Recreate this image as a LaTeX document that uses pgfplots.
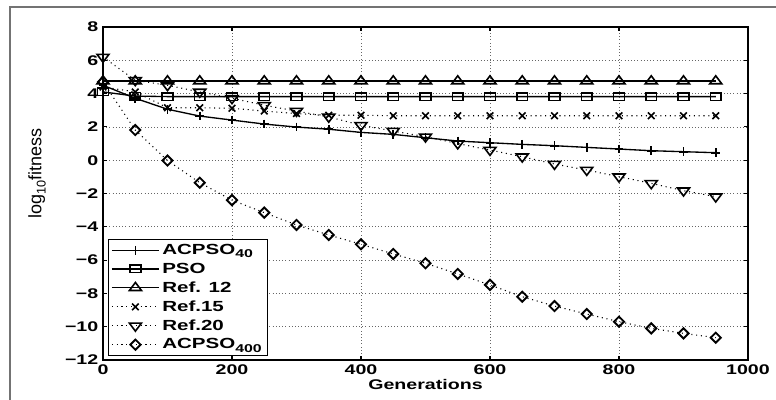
\documentclass[border=0pt]{standalone}
\usepackage{fontspec}
\setmainfont{Liberation Sans}[FakeStretch=1.4]
\newfontfamily\ylabfont{Liberation Sans}
\usepackage{pgfplots}
\pgfplotsset{compat=1.18}
\newcommand{\lf}{\bfseries\fontsize{10.5}{12.5}\selectfont}
\newcommand{\legf}{\bfseries\fontsize{11}{13}\selectfont}
\newcommand{\sub}[1]{\raisebox{-0.45ex}{\bfseries\fontsize{8.5}{8.5}\selectfont #1}}
\begin{document}
\begin{tikzpicture}
\useasboundingbox (-77.25pt,-30pt) rectangle (504.75pt,270pt);
\draw[black!55, line width=0.8pt] (-69.75pt,-31pt) -- (-69.75pt,264.75pt) -- (506pt,264.75pt);
\begin{axis}[
  scale only axis, width=483.75pt, height=249.75pt,
  xmin=0, xmax=1000, ymin=-12, ymax=8,
  xtick={0,200,400,600,800,1000},
  xticklabels={0,200,400,600,800,1000},
  ytick={-12,-10,-8,-6,-4,-2,0,2,4,6,8},
  yticklabels={−12,−10,−8,−6,−4,−2,0,2,4,6,8},
  xtick pos=both, ytick pos=both,
  tick align=inside, major tick length=3pt,
  tick style={black, line width=0.8pt},
  grid=major, grid style={black!60, dotted, line width=0.5pt},
  axis line style={line width=1.5pt},
  font=\lf,
  clip=false,
  xlabel={Generations},
  xlabel style={at={(axis description cs:0.5,-0.075)}, anchor=center},
  ylabel={\ylabfont\mdseries\fontsize{13.5}{15}\selectfont log\raisebox{-0.45ex}{\fontsize{9.5}{9.5}\selectfont 10}fitness},
  ylabel style={at={(axis description cs:-0.1023,0.56)}, anchor=center},
  legend cell align=left,
  legend style={at={(axis description cs:0.0078,0.012)}, anchor=south west,
    draw=black, line width=0.8pt, fill=white, inner xsep=2pt, inner ysep=1.5pt, row sep=0.8pt,
    font=\legf, nodes={font=\legf}},
  legend image code/.code={\draw[mark repeat=2,mark phase=2,#1] plot coordinates {(0cm,0cm)(0.62cm,0cm)(1.24cm,0cm)};},
]
\addplot[black, line width=1pt, mark=+, mark size=3.3pt, mark options={solid, line width=1.2pt}] coordinates {
(0,4.5)(50,3.72)(100,3.06)(150,2.65)(200,2.41)(250,2.17)(300,1.99)(350,1.86)(400,1.67)(450,1.55)
(500,1.35)(550,1.15)(600,1.05)(650,0.95)(700,0.87)(750,0.77)(800,0.67)(850,0.57)(900,0.51)(950,0.45)};
\addlegendentry{ACPSO\sub{40}}
\addplot[black, line width=1pt, mark=square, mark size=2.8pt, mark options={solid, line width=1.2pt, xscale=1.45}] coordinates {
(0,4.1)(50,3.85)(100,3.82)(150,3.82)(200,3.82)(250,3.82)(300,3.82)(350,3.82)(400,3.82)(450,3.82)
(500,3.82)(550,3.82)(600,3.82)(650,3.82)(700,3.82)(750,3.82)(800,3.82)(850,3.82)(900,3.82)(950,3.82)};
\addlegendentry{PSO}
\addplot[black, line width=1pt, mark=triangle, mark size=4pt, mark options={solid, line width=1.2pt, xscale=1.3}] coordinates {
(0,4.75)(50,4.75)(100,4.75)(150,4.75)(200,4.75)(250,4.75)(300,4.75)(350,4.75)(400,4.75)(450,4.75)
(500,4.75)(550,4.75)(600,4.75)(650,4.75)(700,4.75)(750,4.75)(800,4.75)(850,4.75)(900,4.75)(950,4.75)};
\addlegendentry{Ref. 12}
\addplot[black, line width=0.8pt, dash pattern=on 0.8pt off 2.8pt, mark=x, mark size=3.5pt, mark options={solid, line width=1.2pt}] coordinates {
(0,4.4)(50,4.1)(100,3.15)(150,3.15)(200,3.12)(250,2.95)(300,2.8)(350,2.7)(400,2.7)(450,2.67)
(500,2.67)(550,2.67)(600,2.67)(650,2.67)(700,2.67)(750,2.67)(800,2.67)(850,2.67)(900,2.67)(950,2.67)};
\addlegendentry{Ref.15}
\addplot[black, line width=0.8pt, dash pattern=on 0.8pt off 2.8pt, mark=triangle, mark size=4pt, mark options={solid, line width=1.2pt, xscale=1.3, rotate=180}] coordinates {
(0,6.2)(50,4.8)(100,4.5)(150,4.1)(200,3.72)(250,3.3)(300,2.95)(350,2.6)(400,2.1)(450,1.75)
(500,1.41)(550,1.0)(600,0.61)(650,0.21)(700,-0.23)(750,-0.59)(800,-0.99)(850,-1.39)(900,-1.83)(950,-2.19)};
\addlegendentry{Ref.20}
\addplot[black, line width=0.8pt, dash pattern=on 0.8pt off 2.8pt, mark=square, mark size=2.7pt, mark options={solid, line width=1.4pt, rotate=45}] coordinates {
(0,4.7)(50,1.81)(100,-0.02)(150,-1.35)(200,-2.4)(250,-3.15)(300,-3.89)(350,-4.49)(400,-5.05)(450,-5.63)
(500,-6.19)(550,-6.83)(600,-7.49)(650,-8.2)(700,-8.76)(750,-9.24)(800,-9.7)(850,-10.1)(900,-10.4)(950,-10.66)};
\addlegendentry{ACPSO\sub{400}}
\end{axis}
\end{tikzpicture}
\end{document}
